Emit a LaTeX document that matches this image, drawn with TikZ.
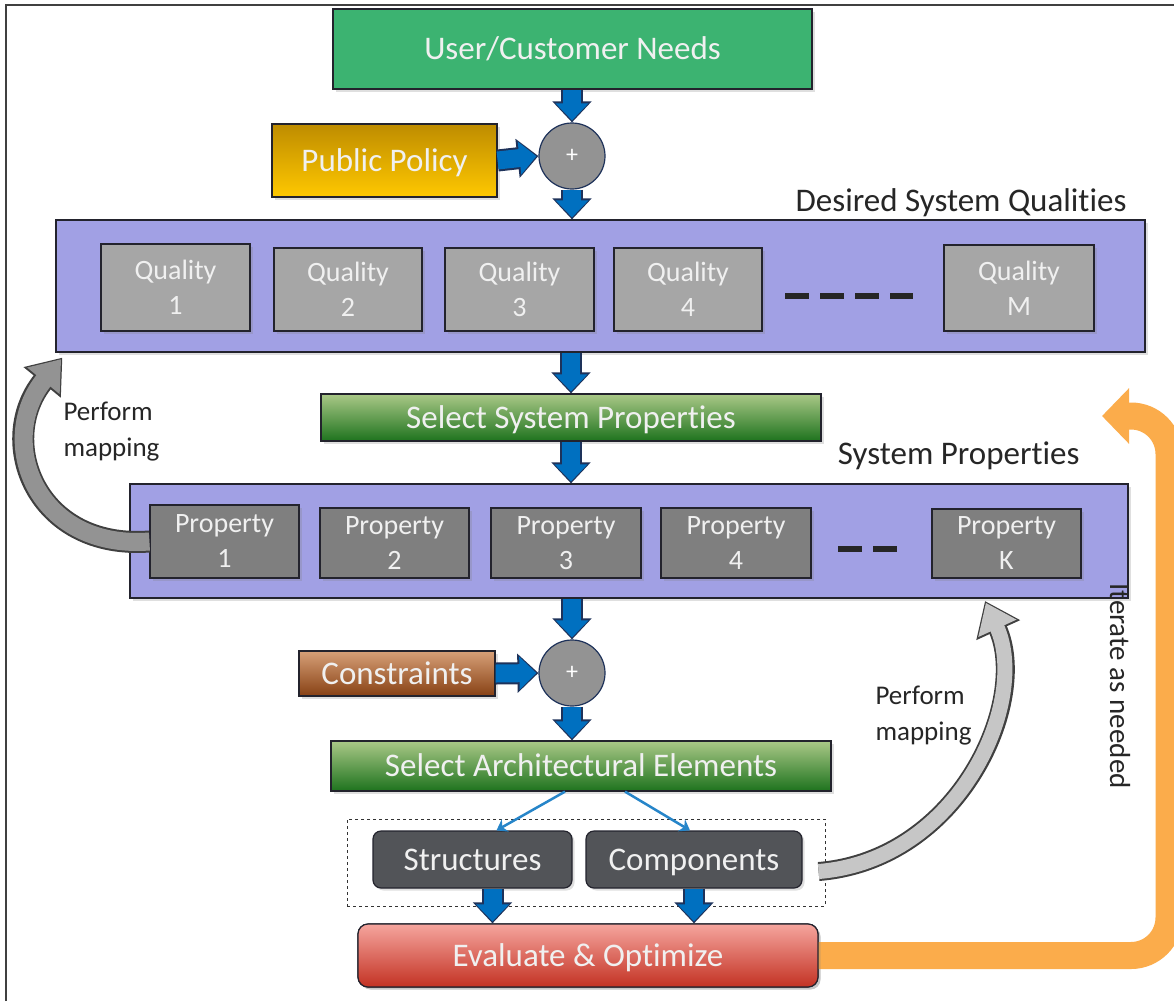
\documentclass[tikz,border=0pt]{standalone}
\usepackage{fontspec}
\setmainfont{Carlito}[Ligatures={NoCommon,NoContextual},Contextuals=NoAlternate,RawFeature={-liga;-calt;-dlig}]
\usetikzlibrary{arrows.meta,shadows,calc}
\definecolor{needsgreen}{RGB}{60,179,113}
\definecolor{goldtop}{RGB}{190,140,0}
\definecolor{goldbot}{RGB}{255,200,0}
\definecolor{greentop}{RGB}{170,200,135}
\definecolor{greenbot}{RGB}{30,115,30}
\definecolor{browntop}{RGB}{215,160,120}
\definecolor{brownbot}{RGB}{135,65,20}
\definecolor{redtop}{RGB}{245,165,158}
\definecolor{redbot}{RGB}{195,50,35}
\definecolor{lav}{RGB}{161,160,228}
\definecolor{qgray}{RGB}{166,166,166}
\definecolor{pgray}{RGB}{127,127,127}
\definecolor{dgray}{RGB}{82,84,88}
\definecolor{ablue}{RGB}{0,112,192}
\definecolor{aedge}{RGB}{30,50,90}
\definecolor{orng}{RGB}{251,172,75}
\definecolor{txt}{RGB}{38,38,38}
\definecolor{edge}{RGB}{35,35,45}
\tikzset{
  shad/.style={drop shadow={opacity=0.25,shadow xshift=2.5pt,shadow yshift=-2.5pt}},
  box/.style={shad,draw=edge,line width=1.2pt,text=white!94!black,inner sep=0pt,
    font=\fontsize{33}{38}\selectfont,align=center},
  one/.style={text height=24pt,text depth=3pt},
  smallbox/.style={box,font=\fontsize{28}{35}\selectfont},
  panel/.style={shad,draw=edge,line width=1.2pt,fill=lav},
  sumnode/.style={circle,draw=aedge,line width=1.2pt,fill=gray!85,minimum size=66pt,
    inner sep=0pt,text=white,font=\fontsize{24}{28}\selectfont},
  lbl/.style={text=txt,font=\fontsize{33}{38}\selectfont},
  maplbl/.style={text=txt,font=\fontsize{27}{36}\selectfont,align=left,anchor=west},
  barrout/.style={draw=aedge,line width=22pt,-{Triangle[width=38pt,length=21pt]}},
  barrin/.style={draw=ablue,line width=18pt,shorten >=2pt,-{Triangle[width=32pt,length=17pt]}},
  garrout/.style={draw=black!75,line width=22pt,-{Triangle[width=46pt,length=32pt]}},
  garrin/.style={line width=18pt,shorten >=2pt,-{Triangle[width=40pt,length=28pt]}},
  thinarr/.style={draw=ablue!85!white,line width=2.5pt,-{Stealth[width=14pt,length=10pt]}},
  dashrow/.style={line width=6pt,draw=black!85,dash pattern=on 24pt off 11pt},
}
\newcommand\blockarrow[2]{\draw[barrout] #1 -- #2; \draw[barrin] #1 -- #2;}
\begin{document}
\begin{tikzpicture}[x=1pt,y=-1pt]
\useasboundingbox (0,0) rectangle (1174,1001);
\fill[white] (0,0) rectangle (1174,1001);
\draw[line width=1.5pt,draw=black!75] (6,1001) -- (6,5) -- (1174,5);

% orange iterate arrow (behind evaluate box)
\node[box,one,rounded corners=10pt,top color=redtop,bottom color=redbot,
  minimum width=460pt,minimum height=63pt] (eval) at (588,955.5) {Evaluate \& Optimize};
\coordinate (itend) at (1102,416);
\draw[draw=orng,line width=27pt,rounded corners=38pt,-{Triangle[width=54pt,length=27pt]}]
  (eval.center) -- (eval.center -| 1169,0) -- (1169,416) -- (itend);
\node[box,one,rounded corners=10pt,top color=redtop,bottom color=redbot,
  minimum width=460pt,minimum height=63pt] at (eval) {Evaluate \& Optimize};

% top
\node[box,one,fill=needsgreen,minimum width=479pt,minimum height=80pt] (ucn) at (572.5,49) {User/Customer Needs};
\node[box,one,top color=goldtop,bottom color=goldbot,minimum width=225pt,minimum height=73pt] (pp) at (384.5,160.5) {Public Policy};
\node[sumnode] (plus1) at (572,156) {+};

% qualities
\node[lbl,anchor=east] (dsq) at (1130,203) {Desired System Qualities};
\node[panel,minimum width=1089pt,minimum height=132pt] (qual) at (600.5,286) {};
\node[smallbox,fill=qgray,minimum width=149pt,minimum height=87pt] (q1) at (175.5,287.5) {Quality\\1};
\node[smallbox,fill=qgray,minimum width=148pt,minimum height=83pt] (q2) at (348,289.5) {Quality\\2};
\node[smallbox,fill=qgray,minimum width=149pt,minimum height=83pt] (q3) at (519.5,289.5) {Quality\\3};
\node[smallbox,fill=qgray,minimum width=148pt,minimum height=83pt] (q4) at (688,289.5) {Quality\\4};
\node[smallbox,fill=qgray,minimum width=150pt,minimum height=86pt] (qm) at (1019,288) {Quality\\M};
\draw[dashrow] (785,296) -- (913,296);

% select system properties
\node[box,one,top color=greentop,bottom color=greenbot,minimum width=500pt,minimum height=47pt] (sel1) at (571,417.5) {Select System Properties};

% properties
\node[lbl,anchor=east] (spl) at (1083,456) {System Properties};
\node[panel,minimum width=998pt,minimum height=114pt] (props) at (629,541) {};
\node[smallbox,fill=pgray,minimum width=149pt,minimum height=73pt] (p1) at (224.5,541.5) {Property\\1};
\node[smallbox,fill=pgray,minimum width=149pt,minimum height=70pt] (p2) at (394.5,543) {Property\\2};
\node[smallbox,fill=pgray,minimum width=150pt,minimum height=70pt] (p3) at (566,543) {Property\\3};
\node[smallbox,fill=pgray,minimum width=150pt,minimum height=70pt] (p4) at (736,543) {Property\\4};
\node[smallbox,fill=pgray,minimum width=149pt,minimum height=69pt] (pk) at (1006.5,543.5) {Property\\K};
\draw[dashrow] (838,549) -- (897,549);

% constraints
\node[sumnode] (plus2) at (572,673) {+};
\node[box,one,top color=browntop,bottom color=brownbot,minimum width=196pt,minimum height=45pt] (cons) at (397,673.5) {Constraints};

% architectural elements
\node[box,one,top color=greentop,bottom color=greenbot,minimum width=500pt,minimum height=50pt] (sel2) at (581,766) {Select Architectural Elements};
\node[draw=black!80,dashed,line width=0.8pt,minimum width=478pt,minimum height=87pt] (dbox) at (586,862.5) {};
\node[box,one,rounded corners=8pt,fill=dgray,minimum width=199pt,minimum height=57pt] (struct) at (472.5,859.5) {Structures};
\node[box,one,rounded corners=8pt,fill=dgray,minimum width=216pt,minimum height=57pt] (comps) at (694,859.5) {Components};

% block arrows
\blockarrow{(ucn.south -| plus1)}{(plus1.north)}
\blockarrow{(pp.east)}{(plus1.west)}
\blockarrow{(plus1.south)}{(plus1.south |- qual.north)}
\blockarrow{(sel1.north |- qual.south)}{(sel1.north)}
\blockarrow{(sel1.south)}{(sel1.south |- props.north)}
\blockarrow{(plus2.north |- props.south)}{(plus2.north)}
\blockarrow{(cons.east)}{(plus2.west)}
\blockarrow{(plus2.south)}{(plus2.south |- sel2.north)}
\blockarrow{([xshift=20pt]struct.south)}{([xshift=20pt]struct.south |- eval.north)}
\blockarrow{(comps.south)}{(comps.south |- eval.north)}

% thin arrows
\draw[thinarr] ([xshift=-16pt]sel2.south) -- ([xshift=24pt]struct.north);
\draw[thinarr] ([xshift=44pt]sel2.south) -- ([xshift=-4pt]comps.north);

% mapping arrows
\coordinate (lt) at ([shift={(7,5)}]qual.south west);
\draw[garrout] (p1.west) .. controls (35,550) and (-5,440) .. (lt);
\draw[garrin,draw=gray!85] (p1.west) .. controls (35,550) and (-5,440) .. (lt);
\coordinate (rt) at (985,601);
\coordinate (rs) at ([shift={(16,12)}]comps.east);
\draw[garrout,line width=19pt] (rs) .. controls (960,860) and (1030,700) .. (rt);
\draw[garrin,line width=15pt,draw=gray!45] (rs) .. controls (960,860) and (1030,700) .. (rt);

\node[maplbl] (pm1) at (60,432) {Perform\\mapping};
\node[maplbl] (pm2) at (872,716) {Perform\\mapping};
\node[text=txt,font=\fontsize{29}{34}\selectfont,rotate=-90] (iter) at (1120,686) {Iterate as needed};
\end{tikzpicture}
\end{document}
